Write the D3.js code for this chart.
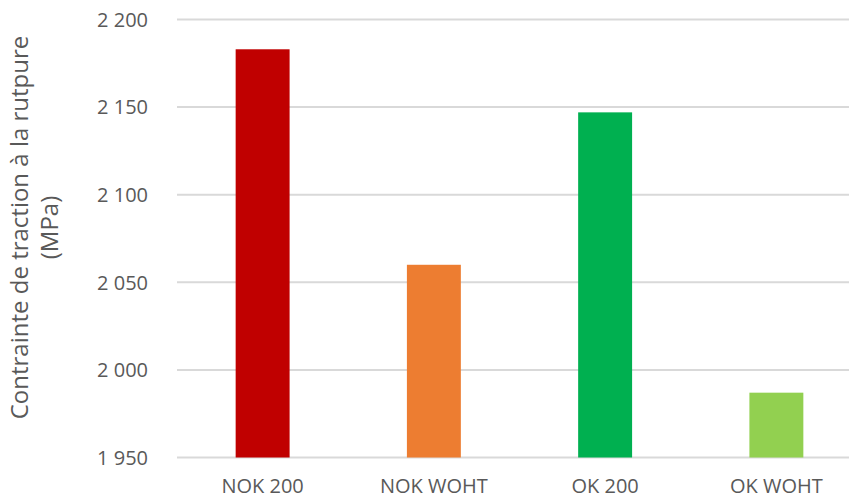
<!DOCTYPE html>
<html>
<head>
<meta charset="utf-8">
<script src="https://cdn.jsdelivr.net/npm/d3@7"></script>
<style>
  body { margin: 0; background: #fff; }
  text { font-family: "Open Sans", sans-serif; fill: #595959; }
</style>
</head>
<body>
<svg></svg>
<script>
var categories = ["NOK 200", "NOK WOHT", "OK 200", "OK WOHT"];
var values = [2183, 2060, 2147, 1987];
var colors = ["#C00000", "#ED7D31", "#00B050", "#92D050"];
var yTicks = [1950, 2000, 2050, 2100, 2150, 2200];

var svgWidth = 849, svgHeight = 499;
var svg = d3.select("svg")
            .attr("width", svgWidth)
            .attr("height", svgHeight);

// plot area runs past the right edge like the original crop
var x = d3.scaleBand()
          .domain(categories)
          .range([177, 862])
          .paddingInner(0.685)
          .paddingOuter(0.3425);
var y = d3.scaleLinear()
          .domain([1950, 2200])
          .range([457.5, 19.5]);

var fmt = function(d) { return d3.format(",")(d).replace(",", " "); };

// gridlines
svg.append("g")
   .selectAll("line")
   .data(yTicks)
   .enter()
   .append("line")
   .attr("x1", 177)
   .attr("x2", svgWidth)
   .attr("y1", function(d) { return y(d); })
   .attr("y2", function(d) { return y(d); })
   .attr("stroke", "#d9d9d9")
   .attr("stroke-width", 2);

// tick labels
svg.append("g")
   .selectAll("text")
   .data(yTicks)
   .enter()
   .append("text")
   .attr("x", 148)
   .attr("y", function(d) { return y(d); })
   .attr("dy", "0.36em")
   .attr("text-anchor", "end")
   .style("font-size", "20px")
   .text(fmt);

// bars
svg.append("g")
   .selectAll("rect")
   .data(values)
   .enter()
   .append("rect")
   .attr("x", function(d, i) { return x(categories[i]); })
   .attr("y", function(d) { return y(d); })
   .attr("width", x.bandwidth())
   .attr("height", function(d) { return y(1950) - y(d); })
   .attr("fill", function(d, i) { return colors[i]; });

// category labels
svg.append("g")
   .selectAll("text")
   .data(categories)
   .enter()
   .append("text")
   .attr("x", function(d) { return x(d) + x.bandwidth() / 2; })
   .attr("y", 493)
   .attr("text-anchor", "middle")
   .style("font-size", "20px")
   .text(function(d) { return d; });

// axis title
var title = svg.append("text")
   .attr("transform", "translate(28,227.5) rotate(-90)")
   .attr("text-anchor", "middle")
   .style("font-size", "24px");
title.append("tspan").attr("x", 0).attr("y", 0).text("Contrainte de traction à la rutpure");
title.append("tspan").attr("x", 0).attr("y", 30).text("(MPa)");
</script>
</body>
</html>
